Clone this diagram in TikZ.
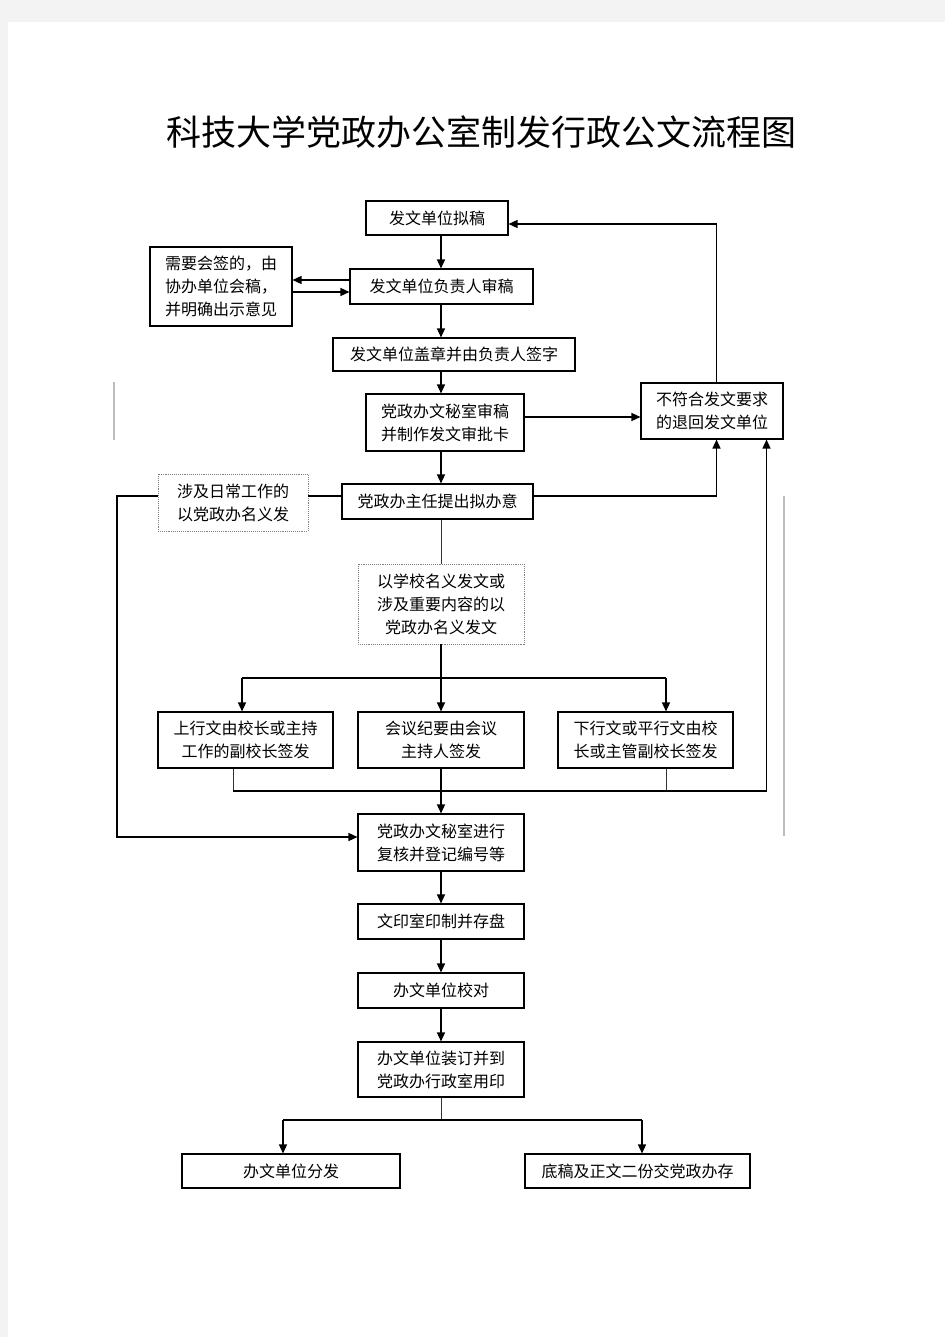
\documentclass[tikz,border=0pt]{standalone}
\usepackage{fontspec}
\newfontfamily\cjk{Noto Sans CJK SC}
\usetikzlibrary{arrows.meta,calc}
\definecolor{pagebg}{HTML}{F3F3F3}
\definecolor{faint}{HTML}{BDBDBD}
\begin{document}
\begin{tikzpicture}[x=1pt,y=-1pt,
  box/.style={draw, line width=1.1pt, inner sep=0pt, align=center, font=\cjk\fontsize{16}{23}\selectfont},
  dbox/.style={draw=gray, densely dotted, line width=0.9pt, inner sep=0pt, align=center, font=\cjk\fontsize{16}{23}\selectfont},
  arr/.style={line width=1.4pt, -{Triangle[length=9pt,width=8pt]}},
  ln/.style={line width=1.4pt},
  thinln/.style={line width=0.8pt, draw=black!80},
]
\useasboundingbox (0,0) rectangle (945,1337);
\fill[pagebg] (0,0) rectangle (945,1337);
\fill[white] (8,22) rectangle (945,1337);
\draw[faint, line width=1.2pt] (114,382) -- (114,440);
\draw[faint, line width=1.2pt] (784,496) -- (784,836);

\node[font=\cjk\fontsize{35}{40}\selectfont] (title) at (481.5,132) {科技大学党政办公室制发行政公文流程图};

\node[box, minimum width=142pt, minimum height=34pt] (n1) at (437,218) {发文单位拟稿};
\node[box, minimum width=183pt, minimum height=35pt] (n2) at (441.5,286.5) {发文单位负责人审稿};
\node[box, minimum width=142pt, minimum height=79pt] (cosign) at (221,286.5) {需要会签的，由\\协办单位会稿，\\并明确出示意见};
\node[box, minimum width=242pt, minimum height=33pt] (n3) at (454,354.5) {发文单位盖章并由负责人签字};
\node[box, minimum width=158pt, minimum height=57pt] (n4) at (445,422.5) {党政办文秘室审稿\\并制作发文审批卡};
\node[box, minimum width=142pt, minimum height=56pt] (reject) at (712,411) {不符合发文要求\\的退回发文单位};
\node[box, minimum width=191pt, minimum height=35pt] (n5) at (437.5,501.5) {党政办主任提出拟办意};
\node[dbox, minimum width=150pt, minimum height=57pt] (daily) at (233,502.5) {涉及日常工作的\\以党政办名义发};
\node[dbox, minimum width=166pt, minimum height=80pt] (school) at (441,604) {以学校名义发文或\\涉及重要内容的以\\党政办名义发文};
\node[box, minimum width=175pt, minimum height=56pt] (b1) at (245.5,740) {上行文由校长或主持\\工作的副校长签发};
\node[box, minimum width=166pt, minimum height=56pt] (b2) at (441,740) {会议纪要由会议\\主持人签发};
\node[box, minimum width=175pt, minimum height=56pt] (b3) at (645.5,740) {下行文或平行文由校\\长或主管副校长签发};
\node[box, minimum width=166pt, minimum height=57pt] (n6) at (441,842.5) {党政办文秘室进行\\复核并登记编号等};
\node[box, minimum width=166pt, minimum height=35pt] (n7) at (441,921.5) {文印室印制并存盘};
\node[box, minimum width=166pt, minimum height=35pt] (n8) at (441,990.5) {办文单位校对};
\node[box, minimum width=166pt, minimum height=55pt] (n9) at (441,1069.5) {办文单位装订并到\\党政办行政室用印};
\node[box, minimum width=218pt, minimum height=34pt] (n10) at (291,1171) {办文单位分发};
\node[box, minimum width=225pt, minimum height=34pt] (n11) at (637.5,1171) {底稿及正文二份交党政办存};

% routing coordinates
\coordinate (ax) at (441,0);
\coordinate (rx) at (716.5,0);
\coordinate (fx) at (766.5,0);
\coordinate (lx) at (117,0);
\coordinate (b1x) at (242,0);
\coordinate (b1y) at (233,0);
\coordinate (b3x) at (666,0);
\coordinate (c1) at (283,0);
\coordinate (c2) at (642,0);
\coordinate (ya) at (0,280);
\coordinate (yb) at (0,292);
\coordinate (yc) at (0,417);
\coordinate (yd) at (0,224);
\coordinate (ye) at (0,496);
\coordinate (yf) at (0,837);
\coordinate (yg) at (0,678);
\coordinate (yh) at (0,791);
\coordinate (yi) at (0,1120);

\draw[arr] (n1.south -| ax) -- (n2.north -| ax);
\draw[arr] (n2.west |- ya) -- (cosign.east |- ya);
\draw[arr] (cosign.east |- yb) -- (n2.west |- yb);
\draw[arr] (n2.south -| ax) -- (n3.north -| ax);
\draw[arr] (n3.south -| ax) -- (n4.north -| ax);
\draw[arr] (n4.east |- yc) -- (reject.west |- yc);
\draw[arr] (n4.south -| ax) -- (n5.north -| ax);
\draw[arr] (reject.north -| rx) |- (n1.east |- yd);
\draw[arr] (n5.east |- ye) -| (reject.south -| rx);
\draw[ln] (n5.west |- ye) -- (daily.east |- ye);
\draw[arr] (daily.west |- ye) -- (lx |- ye) -- (lx |- yf) -- (n6.west |- yf);
\draw[thinln] (n5.south -| ax) -- (school.north -| ax);
\draw[ln] (school.south -| ax) -- (ax |- yg);
\draw[ln] (b1x |- yg) -- (b3x |- yg);
\draw[arr] (b1x |- yg) -- (b1.north -| b1x);
\draw[arr] (ax |- yg) -- (b2.north -| ax);
\draw[arr] (b3x |- yg) -- (b3.north -| b3x);
\draw[thinln] (b1.south -| b1y) -- (b1y |- yh);
\draw[thinln] (b3.south -| b3x) -- (b3x |- yh);
\draw[arr] (b1y |- yh) -- (fx |- yh) -- (reject.south -| fx);
\draw[arr] (b2.south -| ax) -- (n6.north -| ax);
\draw[arr] (n6.south -| ax) -- (n7.north -| ax);
\draw[arr] (n7.south -| ax) -- (n8.north -| ax);
\draw[arr] (n8.south -| ax) -- (n9.north -| ax);
\draw[thinln] (n9.south -| ax) -- (ax |- yi);
\draw[ln] (c1 |- yi) -- (c2 |- yi);
\draw[arr] (c1 |- yi) -- (n10.north -| c1);
\draw[arr] (c2 |- yi) -- (n11.north -| c2);
\end{tikzpicture}
\end{document}
